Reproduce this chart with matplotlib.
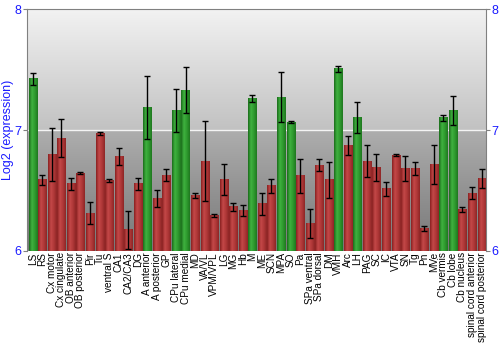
import numpy as np
import matplotlib
matplotlib.use("Agg")
import matplotlib.pyplot as plt
from matplotlib.colors import LinearSegmentedColormap

plt.rcParams['font.family'] = ['Liberation Sans', 'DejaVu Sans']

regions = ["LS", "RS", "Cx motor", "Cx cingulate", "OB anterior", "OB posterior", "Pir", "Tu",
           "ventral S", "CA1", "CA2/CA3", "DG", "A anterior", "A posterior", "GP", "CPu lateral",
           "CPu medial", "MD", "VA/VL", "VPM/VPL", "LG", "MG", "Hb", "M", "ME", "SCN", "MPA", "SO",
           "Pa", "SPa ventral", "SPa dorsal", "DM", "VMH", "Arc", "LH", "PAG", "SC", "IC", "VTA",
           "SN", "Tg", "Pn", "MVe", "Cb vermis", "Cb lobe", "Cb nucleus",
           "spinal cord anterior", "spinal cord posterior"]
expression = [7.425, 6.59, 6.797, 6.935, 6.556, 6.645, 6.313, 6.971,
              6.583, 6.78, 6.174, 6.556, 7.19, 6.434, 6.628, 7.165,
              7.33, 6.456, 6.744, 6.29, 6.59, 6.365, 6.332, 7.261, 6.39, 6.539, 7.275, 7.068,
              6.622, 6.224, 6.708, 6.59, 7.51, 6.871, 7.104, 6.744, 6.69, 6.517, 6.794,
              6.683, 6.683, 6.188, 6.716, 7.104, 7.167, 6.34,
              6.48, 6.6]
errors = [0.05, 0.04, 0.22, 0.16, 0.05, 0.005, 0.09, 0.012,
          0.015, 0.07, 0.16, 0.05, 0.26, 0.07, 0.047, 0.18,
          0.19, 0.02, 0.33, 0.012, 0.13, 0.036, 0.045, 0.027, 0.09, 0.055, 0.21, 0.012,
          0.14, 0.12, 0.05, 0.15, 0.025, 0.08, 0.13, 0.135, 0.11, 0.058, 0.008,
          0.1, 0.055, 0.02, 0.16, 0.024, 0.12, 0.02,
          0.048, 0.078]
high = ["LS", "A anterior", "CPu lateral", "CPu medial", "M", "MPA", "SO", "VMH", "LH",
        "Cb vermis", "Cb lobe"]

green_cm = LinearSegmentedColormap.from_list("g", ["#1c6e1c", "#3fb23f", "#2f9a2f", "#1f781f"])
red_cm = LinearSegmentedColormap.from_list("r", ["#8a2222", "#c44848", "#b03838", "#8e2626"])

fig = plt.figure(figsize=(5, 3.5), dpi=100)
ax = fig.add_axes([0.054, 0.283, 0.918, 0.69])

# background: two vertical gradient bands
top_band = np.linspace(0.95, 0.76, 100).reshape(-1, 1)
low_band = np.linspace(0.68, 0.47, 100).reshape(-1, 1)
ax.imshow(np.dstack([top_band] * 3), extent=[-0.6, 47.47, 7, 8], aspect='auto', zorder=0)
ax.imshow(np.dstack([low_band] * 3), extent=[-0.6, 47.47, 6, 7], aspect='auto', zorder=0)
ax.axhline(7, color='#f4f4f4', lw=1, zorder=1)

grad = np.linspace(0, 1, 32).reshape(1, -1)
w = 0.84
x = np.arange(len(regions))
for i, (name, v) in enumerate(zip(regions, expression)):
    cm = green_cm if name in high else red_cm
    ax.imshow(grad, cmap=cm, extent=[i - w / 2, i + w / 2, 6, v], aspect='auto', zorder=2)
ax.errorbar(x, expression, yerr=errors, fmt='none', ecolor='black', elinewidth=1,
            capsize=2, capthick=1, zorder=3)

ax.set_xlim(-0.6, 47.47)
ax.set_ylim(6, 8)
ax.set_yticks([6, 7, 8])
ax.tick_params(axis='y', colors='#808080', labelcolor='#1a1aff', labelsize=9,
               length=3, left=True, right=True, labelleft=True, labelright=True, pad=1)
ax.set_xticks(x)
ax.set_xticklabels(regions, rotation=90, fontsize=7.2)
ax.tick_params(axis='x', length=0, pad=1)
ax.set_ylabel("Log2 (expression)", color='#1a1aff', fontsize=9, labelpad=0)
for s in ['left', 'top', 'right']:
    ax.spines[s].set_color('#808080')
ax.spines['bottom'].set_visible(False)

fig.savefig("out.png", dpi=100)
